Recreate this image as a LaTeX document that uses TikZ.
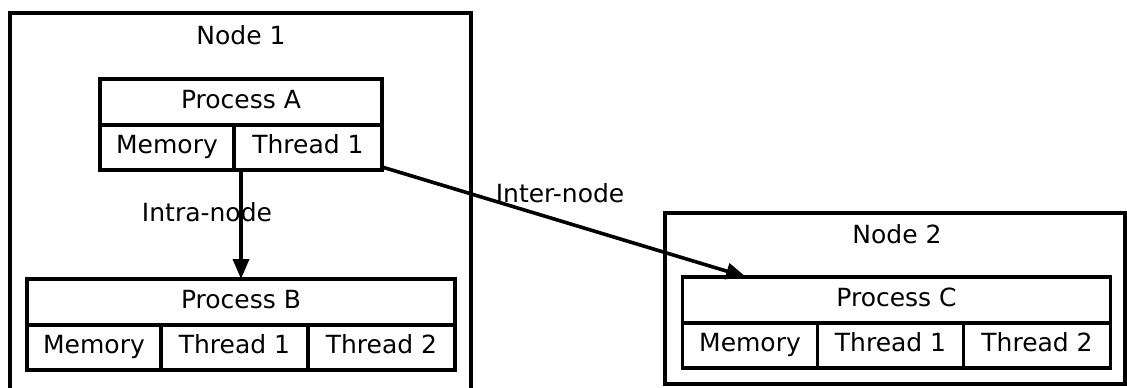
\documentclass[tikz,border=0pt]{standalone}
\usepackage{fontspec}
\setmainfont{DejaVu Sans}
\usetikzlibrary{arrows.meta, positioning, fit}

\begin{document}
\begin{tikzpicture}[
  x=1pt, y=1pt,
  every node/.style={font=\fontsize{12.5}{15}\selectfont},
  cluster/.style={rectangle, draw, line width=1.8pt, inner sep=0pt, outer sep=0pt},
  head/.style={rectangle, draw, line width=1.8pt, minimum height=23pt,
    text height=9pt, text depth=2.6pt, inner sep=0pt, outer sep=0pt},
  cell/.style={rectangle, draw, line width=1.8pt, minimum height=22.5pt,
    text height=9pt, text depth=2.6pt, inner sep=0pt, outer sep=0pt},
  record/.style={rectangle, inner sep=0pt, outer sep=0pt},
  arr/.style={-{Triangle[length=10pt, width=8pt]}, line width=1.8pt}
]
  \path[use as bounding box, clip] (0,0) rectangle (563.5,193.5);

  %% Clusters
  \node[cluster, minimum width=230.5pt, minimum height=200pt, anchor=north west]
    (node1) at (5,187) {};
  \node[cluster, minimum width=230pt, minimum height=85.5pt, anchor=north west]
    (node2) at (332.5,87) {};
  \node (lblnode1) at (120.5,176) {Node 1};
  \node (lblnode2) at (448.5,76.5) {Node 2};

  %% Process A
  \node[head, minimum width=141pt] (hdrA) at (120.5,142.5) {Process A};
  \node[cell, minimum width=67pt, below right=0pt and 0pt of hdrA.south west] (memA) {Memory};
  \node[cell, minimum width=74pt, right=0pt of memA] (thrA1) {Thread 1};
  \node[record, fit=(hdrA)(memA)(thrA1)] (procA) {};

  %% Process B
  \node[head, minimum width=214pt] (hdrB) at (120.5,42.5) {Process B};
  \node[cell, minimum width=67pt, below right=0pt and 0pt of hdrB.south west] (memB) {Memory};
  \node[cell, minimum width=73.5pt, right=0pt of memB] (thrB1) {Thread 1};
  \node[cell, minimum width=73.5pt, right=0pt of thrB1] (thrB2) {Thread 2};
  \node[record, fit=(hdrB)(memB)(thrB2)] (procB) {};

  %% Process C
  \node[head, minimum width=214pt] (hdrC) at (448.25,43.5) {Process C};
  \node[cell, minimum width=67.5pt, below right=0pt and 0pt of hdrC.south west] (memC) {Memory};
  \node[cell, minimum width=73pt, right=0pt of memC] (thrC1) {Thread 1};
  \node[cell, minimum width=73.5pt, right=0pt of thrC1] (thrC2) {Thread 2};
  \node[record, fit=(hdrC)(memC)(thrC2)] (procC) {};

  \draw[arr] (procA) -- node[pos=0.39, xshift=-17pt] (lblintra) {Intra-node} (procB);
  \draw[arr] (procA) -- node[midway, xshift=-2pt, yshift=14.5pt] (lblinter) {Inter-node} (procC);
\end{tikzpicture}
\end{document}
